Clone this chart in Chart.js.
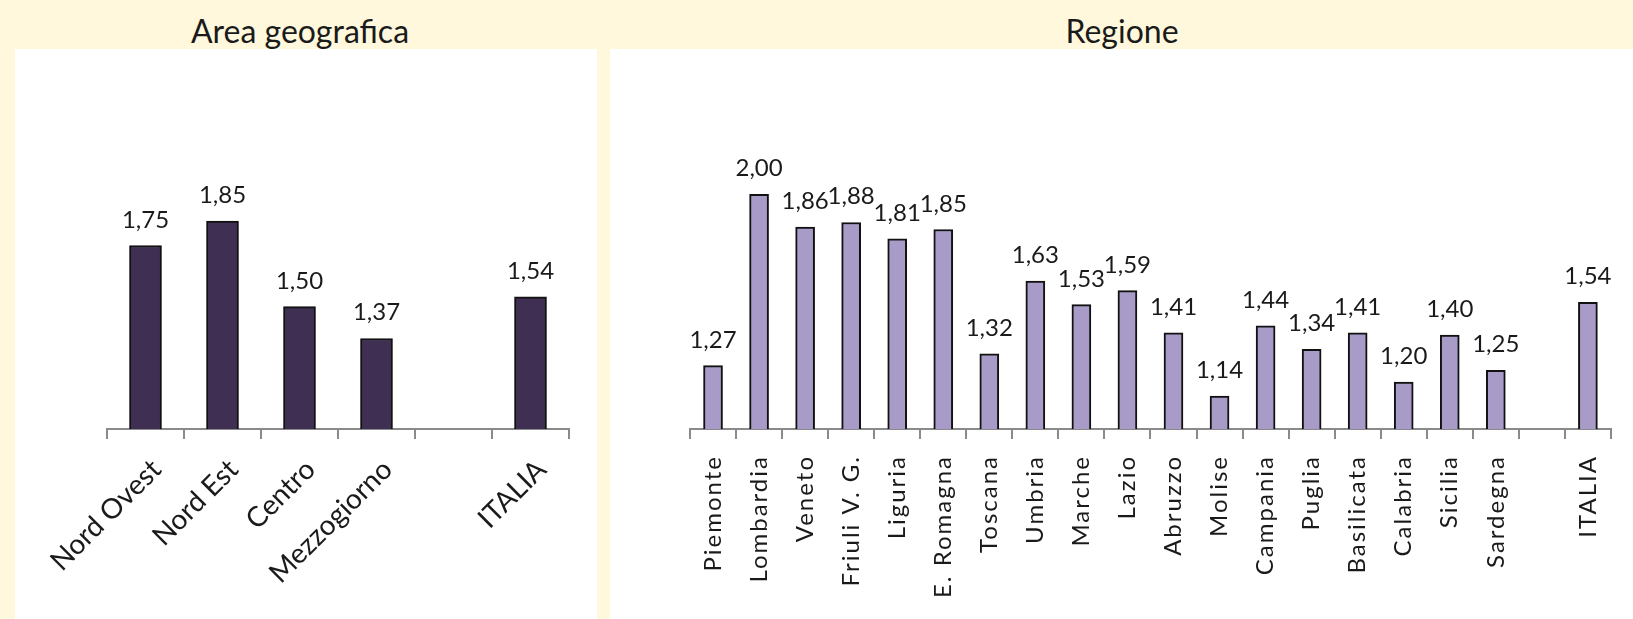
<!DOCTYPE html>
<html>
<head>
<meta charset="utf-8">
<script src="https://cdn.jsdelivr.net/npm/chart.js@4"></script>
<style>
  body { margin: 0; background: #FFF8DC; width: 1633px; height: 619px; position: relative; overflow: hidden; font-family: Lato, sans-serif; }
  .title { position: absolute; top: 15px; height: 32px; line-height: 32px; font-size: 32px; color: #1a1a1a; white-space: nowrap; transform: translateX(-50%); }
  .panel { position: absolute; top: 49px; background: #fff; }
</style>
</head>
<body>
<div class="title" style="left:300px">Area geografica</div>
<div class="title" style="left:1122px">Regione</div>
<div class="panel" style="left:15px; width:582px; height:570px"><canvas id="areaChart" width="582" height="570"></canvas></div>
<div class="panel" style="left:610px; width:1023px; height:570px"><canvas id="regionChart" width="1023" height="570"></canvas></div>
<script>
// data (null = empty slot before ITALIA)
const areaLabels = ['Nord Ovest', 'Nord Est', 'Centro', 'Mezzogiorno', '', 'ITALIA'];
const areaValues = [1.75, 1.85, 1.50, 1.37, null, 1.54];

const regionLabels = ['Piemonte', 'Lombardia', 'Veneto', 'Friuli V. G.', 'Liguria', 'E. Romagna',
    'Toscana', 'Umbria', 'Marche', 'Lazio', 'Abruzzo', 'Molise', 'Campania', 'Puglia',
    'Basilicata', 'Calabria', 'Sicilia', 'Sardegna', '', 'ITALIA'];
const regionValues = [1.27, 2.00, 1.86, 1.88, 1.81, 1.85, 1.32, 1.63, 1.53, 1.59, 1.41, 1.14,
    1.44, 1.34, 1.41, 1.20, 1.40, 1.25, null, 1.54];

const yMin = 1.0;
const yMax = 2.5;

// spaced out lettering for the vertical region names
const spacedTicks = {
    id: 'spacedTicks',
    beforeDraw(chart, args, opts) {
        chart.ctx.letterSpacing = opts.spacing || '0px';
    }
};

// draws the value above each bar, italian decimal comma
const valueLabels = {
    id: 'valueLabels',
    afterDatasetsDraw(chart) {
        const ctx = chart.ctx;
        const values = chart.data.datasets[0].data;
        ctx.save();
        ctx.letterSpacing = '0px';
        ctx.font = '24px Lato';
        ctx.fillStyle = '#1a1a1a';
        ctx.textAlign = 'center';
        ctx.textBaseline = 'alphabetic';
        chart.getDatasetMeta(0).data.forEach((bar, i) => {
            if (values[i] == null) return;
            ctx.fillText(values[i].toFixed(2).replace('.', ','), bar.x, bar.y - 18);
        });
        ctx.restore();
    }
};

function makeChart(id, labels, values, opts) {
    return new Chart(document.getElementById(id), {
        type: 'bar',
        data: {
            labels: labels,
            datasets: [{
                data: values,
                backgroundColor: opts.fill,
                borderColor: '#111',
                borderWidth: 2,
                barThickness: opts.barWidth
            }]
        },
        options: {
            responsive: false,
            animation: false,
            layout: { padding: opts.padding },
            plugins: {
                legend: { display: false },
                tooltip: { enabled: false },
                spacedTicks: { spacing: opts.spacing }
            },
            scales: {
                x: {
                    grid: { drawOnChartArea: false, color: '#8a8a8a', lineWidth: 2, tickLength: 10 },
                    border: { display: true, color: '#8a8a8a', width: 2 },
                    ticks: {
                        autoSkip: false,
                        minRotation: opts.rotation,
                        maxRotation: opts.rotation,
                        padding: opts.tickPad,
                        labelOffset: opts.labelOffset,
                        color: '#1a1a1a',
                        font: { family: 'Lato', size: opts.tickSize }
                    },
                    afterFit: (scale) => { scale.height = 190; }
                },
                y: { display: false, min: yMin, max: yMax }
            }
        },
        plugins: [spacedTicks, valueLabels]
    });
}

document.fonts.load('24px Lato').then(function () {
    makeChart('areaChart', areaLabels, areaValues, {
        fill: '#3f2f52', barWidth: 32, rotation: 45, tickPad: 14, labelOffset: 11, tickSize: 28,
        spacing: '0px',
        padding: { left: 92, right: 28, top: 13, bottom: 0 }
    });
    makeChart('regionChart', regionLabels, regionValues, {
        fill: '#a99bc8', barWidth: 19, rotation: 90, tickPad: 16, labelOffset: 0, tickSize: 24,
        spacing: '2px',
        padding: { left: 80, right: 12, top: 28, bottom: 0 }
    });
});
</script>
</body>
</html>
